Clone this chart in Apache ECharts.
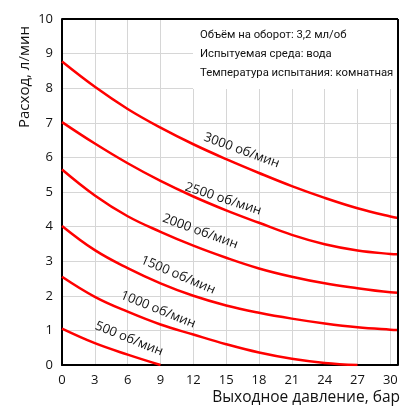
<!DOCTYPE html>
<html>
<head>
<meta charset="utf-8">
<script src="https://cdn.jsdelivr.net/npm/echarts@6/dist/echarts.min.js"></script>
<style>
  html, body { margin: 0; padding: 0; background: #fff; }
  #chart { width: 418px; height: 418px; }
</style>
</head>
<body>
<div id="chart"></div>
<script>
// pressure, bar
const pressure = [0, 3, 6, 9, 12, 15, 18, 21, 24, 27, 30, 30.7]
const speeds = ["3000", "2500", "2000", "1500", "1000", "500"]
// flow, l/min
const flow3000 = [8.77, 8.04, 7.4, 6.86, 6.38, 5.95, 5.55, 5.17, 4.83, 4.53, 4.29, 4.25]
const flow2500 = [7.02, 6.40, 5.83, 5.32, 4.87, 4.47, 4.11, 3.76, 3.49, 3.31, 3.21, 3.2]
const flow2000 = [5.65, 4.9, 4.3, 3.85, 3.45, 3.1, 2.79, 2.55, 2.36, 2.22, 2.1, 2.09]
const flow1500 = [4.02, 3.32, 2.8, 2.36, 2.0, 1.72, 1.51, 1.34, 1.2, 1.09, 1.02, 1.01]
const flow1000 = [2.55, 1.97, 1.54, 1.17, 0.88, 0.6, 0.36, 0.18, 0.06, 0.0]
const flow500 = [1.05, 0.63, 0.3, 0.0]
const infoLines = ["Объём на оборот: 3,2 мл/об", "Испытуемая среда: вода", "Температура испытания: комнатная"]

const font = "'Open Sans', 'Noto Sans', sans-serif"
const allFlows = [flow3000, flow2500, flow2000, flow1500, flow1000, flow500]
// where each curve caption sits (data units) and its slope
const captionAt = [[16.42, 6.2, -20], [14.73, 4.8, -18], [12.63, 3.86, -20], [10.61, 2.6, -23], [8.78, 1.6, -22], [6.13, 0.76, -22]]

const chart = echarts.init(document.getElementById("chart"))

const series = speeds.map((s, i) => ({
  name: s,
  type: "line",
  smooth: 0.4,
  symbol: "none",
  z: 3,
  lineStyle: { color: "#ff0000", width: 2.5 },
  data: allFlows[i].map((v, k) => [pressure[k], v]),
  markPoint: {
    symbol: "circle",
    symbolSize: 1,
    silent: true,
    itemStyle: { color: "rgba(0,0,0,0)" },
    data: [{
      coord: [captionAt[i][0], captionAt[i][1]],
      label: {
        show: true,
        formatter: s + " об/мин",
        rotate: captionAt[i][2],
        color: "#111",
        fontSize: 13,
        fontFamily: font,
        position: "inside",
      },
    }],
  },
}))

// top and right edges of the frame
series[0].markLine = {
  silent: true,
  symbol: ["none", "none"],
  label: { show: false },
  lineStyle: { color: "#000", width: 2, type: "solid" },
  data: [{ yAxis: 10 }, { xAxis: 30.7 }],
}

chart.setOption({
  animation: false,
  grid: { left: 62, right: 20, top: 19, bottom: 53 },
  xAxis: {
    type: "value",
    min: 0,
    max: 30.7,
    interval: 3,
    axisLine: { onZero: false, lineStyle: { color: "#000", width: 2 } },
    axisTick: { show: false },
    axisLabel: {
      color: "#111", fontSize: 13, fontFamily: font, margin: 9,
      formatter: (v) => (Math.abs(v % 3) < 1e-6 ? String(v) : ""),
    },
    splitLine: { lineStyle: { color: "#d6d6d6", width: 1 } },
  },
  yAxis: {
    type: "value",
    min: 0,
    max: 10,
    interval: 1,
    axisLine: { show: true, onZero: false, lineStyle: { color: "#000", width: 2 } },
    axisTick: { show: false },
    axisLabel: { color: "#111", fontSize: 13, fontFamily: font, margin: 9 },
    splitLine: { lineStyle: { color: "#d6d6d6", width: 1 } },
  },
  graphic: [
    {
      type: "rect",
      z: 1,
      shape: { x: 193, y: 20, width: 204, height: 69 },
      style: { fill: "#fff" },
    },
    ...infoLines.map((t, i) => ({
      type: "text",
      z: 2,
      left: 200,
      top: 30 + i * 19,
      style: { text: t, fill: "#111", font: "11.3px Roboto, sans-serif" },
    })),
    {
      type: "text",
      x: 17,
      y: 128,
      rotation: Math.PI / 2,
      style: { text: "Расход, л/мин", fill: "#111", font: "15px " + font },
    },
    {
      type: "text",
      right: 18,
      top: 390,
      style: { text: "Выходное давление, бар", fill: "#111", font: "15.5px " + font },
    },
  ],
  series: series,
})
</script>
</body>
</html>
